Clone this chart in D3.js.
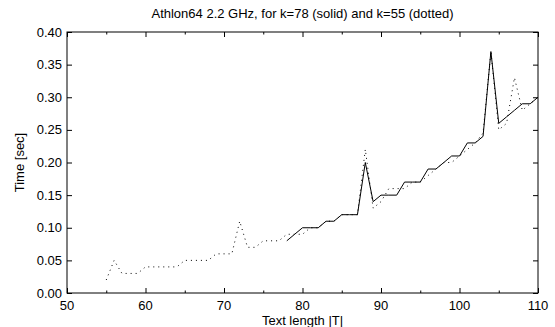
<!DOCTYPE html>
<html>
<head>
<meta charset="utf-8">
<script src="https://cdn.jsdelivr.net/npm/d3@7"></script>
<style>
  html, body { margin: 0; padding: 0; background: #fff; }
  svg { display: block; font-family: "Liberation Sans", Arial, sans-serif; }
</style>
</head>
<body>
<div id="chart"></div>
<script>
// Data
const textLenSolid = d3.range(78, 111);   // k=78
const timeSolid = [0.08, 0.09, 0.10, 0.10, 0.10, 0.11, 0.11, 0.12, 0.12, 0.12,
                   0.20, 0.14, 0.15, 0.15, 0.15, 0.17, 0.17, 0.17, 0.19, 0.19,
                   0.20, 0.21, 0.21, 0.23, 0.23, 0.24, 0.37, 0.26, 0.27, 0.28,
                   0.29, 0.29, 0.30];

const textLenDotted = d3.range(55, 111);  // k=55
const timeDotted = [0.02, 0.05, 0.03, 0.03, 0.03, 0.04, 0.04, 0.04, 0.04, 0.04,
                    0.05, 0.05, 0.05, 0.05, 0.06, 0.06, 0.06, 0.11, 0.07, 0.07,
                    0.08, 0.08, 0.08, 0.09, 0.09, 0.09, 0.10, 0.10, 0.11, 0.11,
                    0.12, 0.12, 0.12, 0.22, 0.13, 0.14, 0.16, 0.16, 0.16, 0.17,
                    0.17, 0.18, 0.19, 0.20, 0.20, 0.21, 0.22, 0.23, 0.245, 0.37,
                    0.25, 0.26, 0.33, 0.28, 0.29, 0.30];

const xTicks = [50, 60, 70, 80, 90, 100, 110];
const xMinorTicks = [55, 65, 75, 85, 95, 105];
const yTicks = [0, 0.05, 0.10, 0.15, 0.20, 0.25, 0.30, 0.35, 0.40];

const W = 555, H = 327;
const margin = { top: 32, right: 17, bottom: 34, left: 67 };

const svg = d3.select("#chart").append("svg")
    .attr("width", W)
    .attr("height", H);

const x = d3.scaleLinear().domain([50, 110]).range([margin.left, W - margin.right]);
const y = d3.scaleLinear().domain([0, 0.4]).range([H - margin.bottom, margin.top]);

const fmt = d3.format(".2f");

// axes: ticks point inward on all four sides
svg.append("g")
    .attr("transform", `translate(0,${y(0)})`)
    .call(d3.axisTop(x).tickValues(xTicks).tickSize(5).tickFormat(""))
    .call(g => g.select(".domain").remove());
svg.append("g")
    .attr("transform", `translate(0,${y(0)})`)
    .call(d3.axisTop(x).tickValues(xMinorTicks).tickSize(2.5).tickFormat(""))
    .call(g => g.select(".domain").remove());
svg.append("g")
    .attr("transform", `translate(0,${y(0.4)})`)
    .call(d3.axisBottom(x).tickValues(xTicks).tickSize(5).tickFormat(""))
    .call(g => g.select(".domain").remove());
svg.append("g")
    .attr("transform", `translate(0,${y(0.4)})`)
    .call(d3.axisBottom(x).tickValues(xMinorTicks).tickSize(2.5).tickFormat(""))
    .call(g => g.select(".domain").remove());
svg.append("g")
    .attr("transform", `translate(${x(50)},0)`)
    .call(d3.axisRight(y).tickValues(yTicks).tickSize(5).tickFormat(""))
    .call(g => g.select(".domain").remove());
svg.append("g")
    .attr("transform", `translate(${x(110)},0)`)
    .call(d3.axisLeft(y).tickValues(yTicks).tickSize(5).tickFormat(""))
    .call(g => g.select(".domain").remove());

svg.selectAll(".tick line").attr("stroke", "#000");

// tick labels
svg.append("g").selectAll("text")
    .data(xTicks)
    .join("text")
    .attr("x", d => x(d))
    .attr("y", 310)
    .attr("text-anchor", "middle")
    .style("font-size", "13px")
    .text(d => d);

svg.append("g").selectAll("text")
    .data(yTicks)
    .join("text")
    .attr("x", x(50) - 5)
    .attr("y", d => y(d))
    .attr("dy", "0.35em")
    .attr("text-anchor", "end")
    .style("font-size", "13px")
    .text(d => fmt(d));

// frame
svg.append("rect")
    .attr("x", x(50))
    .attr("y", y(0.4))
    .attr("width", x(110) - x(50))
    .attr("height", y(0) - y(0.4))
    .attr("fill", "none")
    .attr("stroke", "#000")
    .attr("stroke-width", 1);

// lines
const line = d3.line()
    .x(d => x(d[0]))
    .y(d => y(d[1]));

svg.append("path")
    .datum(d3.zip(textLenDotted, timeDotted))
    .attr("d", line)
    .attr("fill", "none")
    .attr("stroke", "#000")
    .attr("stroke-width", 1)
    .attr("stroke-dasharray", "1,4");

svg.append("path")
    .datum(d3.zip(textLenSolid, timeSolid))
    .attr("d", line)
    .attr("fill", "none")
    .attr("stroke", "#000")
    .attr("stroke-width", 1);

// title and axis labels
svg.append("text")
    .attr("x", (x(50) + x(110)) / 2)
    .attr("y", 17.5)
    .attr("text-anchor", "middle")
    .style("font-size", "13px")
    .text("Athlon64 2.2 GHz, for k=78 (solid) and k=55 (dotted)");

svg.append("text")
    .attr("x", (x(50) + x(110)) / 2)
    .attr("y", 325)
    .attr("text-anchor", "middle")
    .style("font-size", "13px")
    .text("Text length |T|");

svg.append("text")
    .attr("transform", `translate(24,${(y(0) + y(0.4)) / 2}) rotate(-90)`)
    .attr("text-anchor", "middle")
    .style("font-size", "13px")
    .text("Time [sec]");
</script>
</body>
</html>
